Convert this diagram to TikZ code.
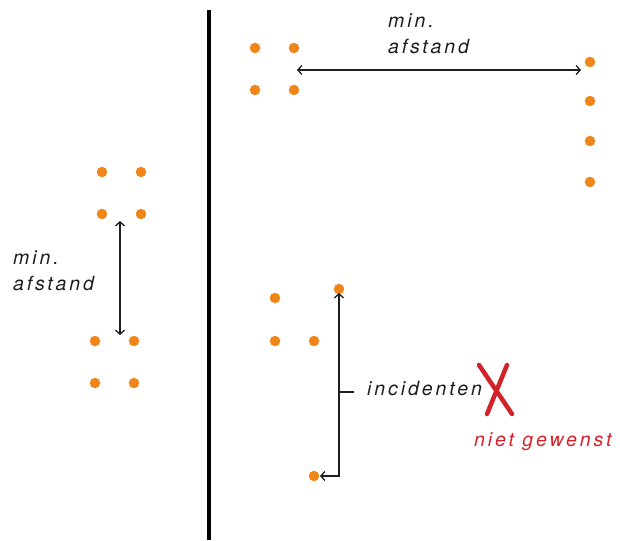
\documentclass[tikz,border=0pt]{standalone}
\usepackage{fontspec}
\setmainfont{TeX Gyre Heros}
\newfontfamily\lblfont[LetterSpace=15]{TeX Gyre Heros}
\usetikzlibrary{arrows.meta}
\definecolor{dotorange}{HTML}{F0851A}
\definecolor{xred}{HTML}{D2232A}
\definecolor{ink}{HTML}{1E1E1E}
\tikzset{
  dot/.style={circle,fill=dotorange,inner sep=0pt,minimum size=10.5pt},
  dimarrow/.style={draw=ink,line width=1.3pt,{Straight Barb[length=4pt,width=9pt,line width=1.3pt]}-{Straight Barb[length=4pt,width=9pt,line width=1.3pt]}},
  lbl/.style={font=\lblfont\itshape\fontsize{19.5}{26}\selectfont,text=ink,inner sep=0pt,align=left},
  redlbl/.style={font=\lblfont\itshape\fontsize{19.5}{26}\selectfont,text=xred,inner sep=0pt}
}
\begin{document}
\begin{tikzpicture}[x=1pt,y=-1pt]
\useasboundingbox (0,0) rectangle (620,540);
% wall
\coordinate (wt) at (209,10);
\coordinate (wb) at (209,540);
\draw[line width=4.5pt,black] (wt) -- (wb);
% left groups
\node[dot] (l1) at (102,172) {};
\node[dot] (l2) at (141,172) {};
\node[dot] (l3) at (102,214) {};
\node[dot] (l4) at (141,214) {};
\node[dot] (l5) at (95,341) {};
\node[dot] (l6) at (134,341) {};
\node[dot] (l7) at (95,383) {};
\node[dot] (l8) at (134,383) {};
\coordinate (la) at (120,221);
\coordinate (lb) at (120,335);
\draw[dimarrow] (la) -- (lb);
\node[lbl,anchor=north west] (ltext) at (13,251) {min.\\afstand};
% top groups
\node[dot] (t1) at (255,48) {};
\node[dot] (t2) at (294,48) {};
\node[dot] (t3) at (255,90) {};
\node[dot] (t4) at (294,90) {};
\node[dot] (r1) at (590,62) {};
\node[dot] (r2) at (590,101) {};
\node[dot] (r3) at (590,141) {};
\node[dot] (r4) at (590,182) {};
\coordinate (ta) at (297,70);
\coordinate (tb) at (581,70);
\draw[dimarrow] (ta) -- (tb);
\node[lbl,anchor=north west] (ttext) at (388,14) {min.\\afstand};
% lower group
\node[dot] (b1) at (275,298) {};
\node[dot] (b2) at (275,341) {};
\node[dot] (b3) at (314,341) {};
\node[dot] (b4) at (339,289) {};
\node[dot] (b5) at (314,476) {};
\coordinate (bc) at (339,476);
\coordinate (btop) at (339,293);
\coordinate (bleft) at (320,476);
\draw[dimarrow] (bleft) -- (bc) -- (btop);
\coordinate (tk1) at (339,392);
\coordinate (tk2) at (354,392);
\draw[draw=ink,line width=1.3pt] (tk1) -- (tk2);
\node[lbl,anchor=west] (inc) at (367,389) {incidenten};
% red cross
\coordinate (x1) at (479,365);
\coordinate (x2) at (512,414);
\coordinate (x3) at (507,365);
\coordinate (x4) at (487,414);
\draw[xred,line width=4.5pt,line cap=round] (x1) -- (x2);
\draw[xred,line width=4.5pt,line cap=round] (x3) -- (x4);
\node[redlbl,anchor=west] (niet) at (474,442) {niet gewenst};
\end{tikzpicture}
\end{document}
